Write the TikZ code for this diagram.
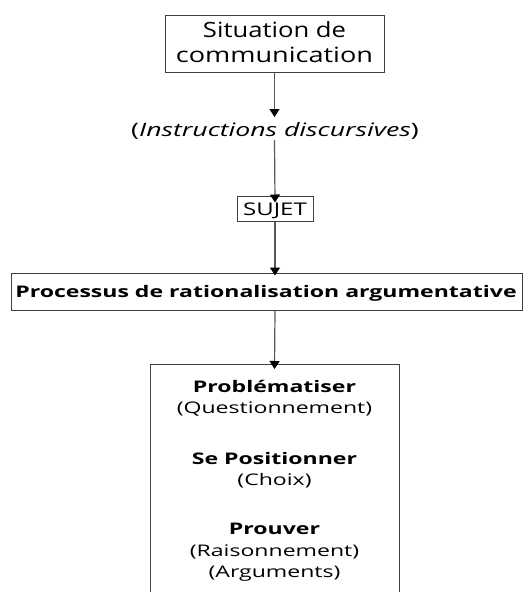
\documentclass[tikz,border=0pt]{standalone}
\usepackage{graphicx}
\usepackage{fontspec}
\setmainfont{Open Sans}
\usetikzlibrary{arrows.meta}
\newcommand{\hs}[2]{\scalebox{#1}[1]{#2}}
\begin{document}
\begin{tikzpicture}[x=1pt,y=-1pt,
  box/.style={draw=black!75, line width=1pt, inner sep=0pt},
  arr/.style={draw=black!65, line width=1.2pt, -{Triangle[length=8pt,width=10pt,color=black]}},
  lbl/.style={anchor=base, inner sep=0pt},
  big/.style={font=\fontsize{21}{21}\selectfont},
  mid/.style={font=\fontsize{18.5}{18.5}\selectfont},
  sml/.style={font=\fontsize{16}{16}\selectfont}]
\useasboundingbox (0,0) rectangle (531,592);
\fill[white] (0,0) rectangle (531,592);
% top box
\node[box, minimum width=219pt, minimum height=57pt] (sit) at (274.5,43.5) {};
\node[lbl, big] (sit1) at (274.5,37) {\hs{1.22}{Situation de}};
\node[lbl, big] (sit2) at (274.5,62) {\hs{1.29}{communication}};
% instructions
\node[lbl, mid] (instr) at (275,136) {\hs{1.44}{(\textit{Instructions discursives})}};
\coordinate (instrtop) at (274.5,117);
\coordinate (instrbot) at (274.5,140);
% SUJET
\node[box, minimum width=76pt, minimum height=25pt] (sujet) at (275,208.5) {};
\node[lbl, font=\fontsize{17.5}{17.5}\selectfont] (sujett) at (275,215) {\hs{1.37}{SUJET}};
% Processus
\node[box, minimum width=511pt, minimum height=37pt] (proc) at (266.5,291.5) {};
\node[lbl, sml] (proct) at (266,297) {\hs{1.44}{\bfseries Processus de rationalisation argumentative}};
% result box
\node[box, minimum width=249pt, minimum height=260pt, anchor=north] (res) at (274.5,364) {};
\node[lbl, sml] (r1) at (274.5,392) {\hs{1.44}{\bfseries Problématiser}};
\node[lbl, sml] (r2) at (274.5,413) {\hs{1.44}{(Questionnement)}};
\node[lbl, sml] (r3) at (274.5,464) {\hs{1.44}{\bfseries Se Positionner}};
\node[lbl, sml] (r4) at (274.5,485) {\hs{1.44}{(Choix)}};
\node[lbl, sml] (r5) at (274.5,534) {\hs{1.44}{\bfseries Prouver}};
\node[lbl, sml] (r6) at (274.5,556) {\hs{1.44}{(Raisonnement)}};
\node[lbl, sml] (r7) at (274.5,577) {\hs{1.44}{(Arguments)}};
% arrows
\draw[arr] (sit.south) -- (instrtop);
\draw[arr] (instrbot) -- ([yshift=-7pt]sujet.north);
\draw[arr] (sujet.south) -- ([yshift=-3pt]proc.north -| sujet.south);
\draw[arr] (proc.south -| sujet.south) -- ([yshift=-5pt]res.north);
\end{tikzpicture}
\end{document}
